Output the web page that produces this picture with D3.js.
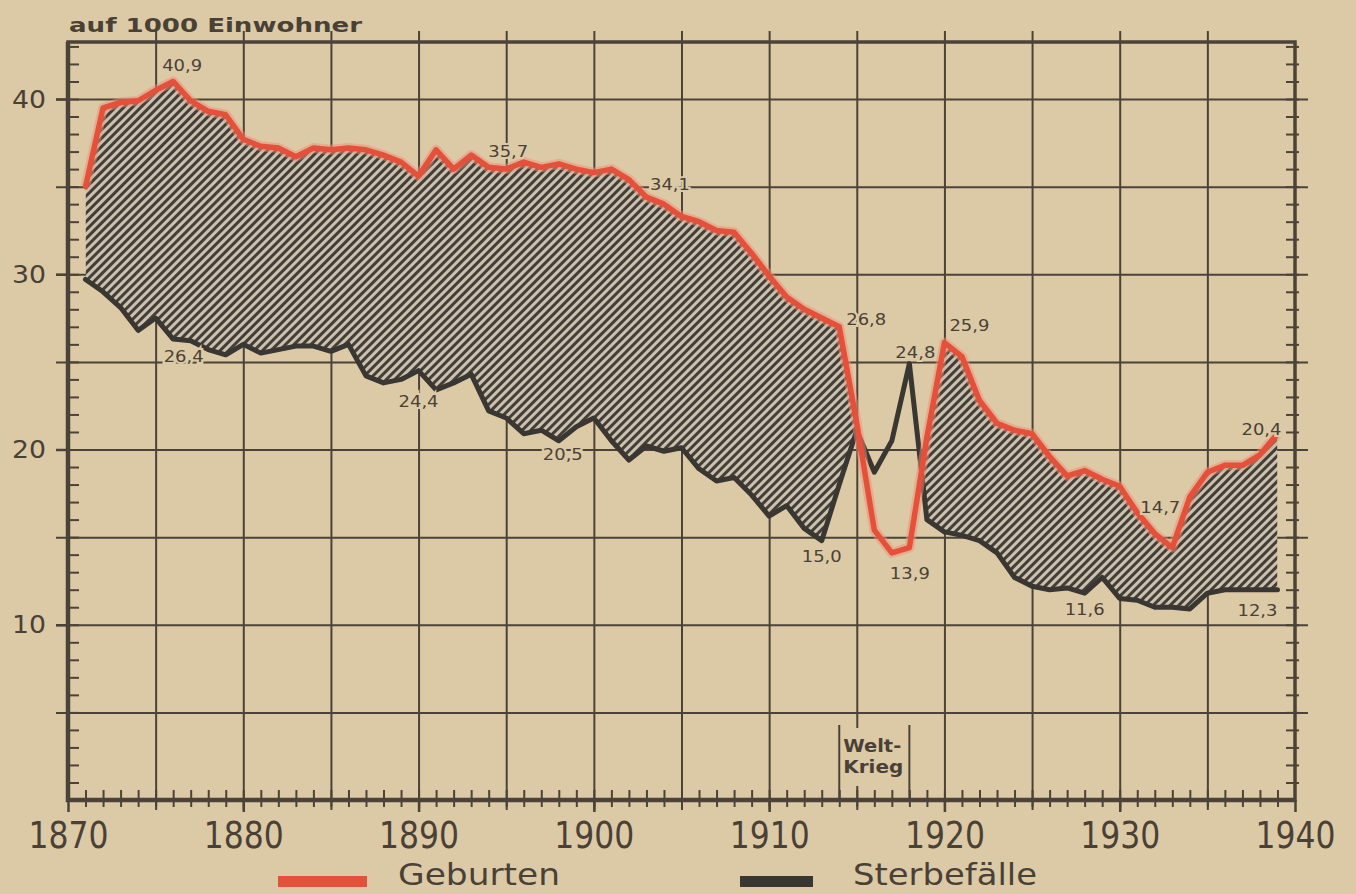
<!DOCTYPE html>
<html lang="de">
<head>
<meta charset="utf-8">
<title>Geburten und Sterbefälle</title>
<script src="https://cdn.jsdelivr.net/npm/d3@7"></script>
<style>
  html, body { margin: 0; padding: 0; background: #dccaa7; }
  svg { display: block; }
  text { font-family: "DejaVu Sans", sans-serif; fill: #4a4136; }
</style>
</head>
<body>
<div id="chart"></div>
<script>
// Jahre 1871-1939, Raten auf 1000 Einwohner
const years = [
  1871, 1872, 1873, 1874, 1875, 1876, 1877, 1878, 1879, 1880,
  1881, 1882, 1883, 1884, 1885, 1886, 1887, 1888, 1889, 1890,
  1891, 1892, 1893, 1894, 1895, 1896, 1897, 1898, 1899, 1900,
  1901, 1902, 1903, 1904, 1905, 1906, 1907, 1908, 1909, 1910,
  1911, 1912, 1913, 1914, 1915, 1916, 1917, 1918, 1919, 1920,
  1921, 1922, 1923, 1924, 1925, 1926, 1927, 1928, 1929, 1930,
  1931, 1932, 1933, 1934, 1935, 1936, 1937, 1938, 1939
];

const births = [
  35.0, 39.5, 39.8, 39.9, 40.5, 41.0, 39.9, 39.3, 39.1, 37.7,
  37.3, 37.2, 36.7, 37.2, 37.1, 37.2, 37.1, 36.8, 36.4, 35.6,
  37.1, 36.0, 36.8, 36.1, 36.0, 36.4, 36.1, 36.3, 36.0, 35.8,
  36.0, 35.4, 34.4, 34.0, 33.3, 33.0, 32.5, 32.4, 31.2, 29.9,
  28.7, 28.0, 27.5, 27.0, 21.5, 15.4, 14.1, 14.4, 20.7, 26.1,
  25.3, 22.8, 21.5, 21.1, 20.9, 19.6, 18.5, 18.8, 18.3, 17.9,
  16.4, 15.2, 14.4, 17.3, 18.7, 19.1, 19.1, 19.7, 20.9
];

const deaths = [
  29.7, 29.0, 28.1, 26.8, 27.5, 26.3, 26.2, 25.7, 25.4, 26.0,
  25.5, 25.7, 25.9, 25.9, 25.6, 26.0, 24.2, 23.8, 24.0, 24.5,
  23.4, 23.8, 24.3, 22.2, 21.8, 20.9, 21.1, 20.5, 21.3, 21.8,
  20.5, 19.4, 20.2, 19.9, 20.1, 18.9, 18.2, 18.4, 17.4, 16.2,
  16.8, 15.5, 14.8, 18.0, 21.1, 18.7, 20.5, 24.9, 16.0, 15.3,
  15.1, 14.8, 14.1, 12.7, 12.2, 12.0, 12.1, 11.8, 12.7, 11.5,
  11.4, 11.0, 11.0, 10.9, 11.8, 12.0, 12.0, 12.0, 12.0
];

const decadeTicks = [1870, 1880, 1890, 1900, 1910, 1920, 1930, 1940];
const gridYears = [1875, 1880, 1885, 1890, 1895, 1900, 1905, 1910, 1915, 1920, 1925, 1930, 1935];
const rateTicks = [10, 20, 30, 40];
const gridRates = [5, 10, 15, 20, 25, 30, 35, 40];

// Beschriftete Werte an den Kurven
const annotations = [
  { series: 'births', year: 1876, text: '40,9' },
  { series: 'deaths', year: 1877, text: '26,4' },
  { series: 'deaths', year: 1890, text: '24,4' },
  { series: 'births', year: 1895, text: '35,7' },
  { series: 'births', year: 1904, text: '34,1' },
  { series: 'deaths', year: 1898, text: '20,5' },
  { series: 'deaths', year: 1913, text: '15,0' },
  { series: 'births', year: 1914, text: '26,8' },
  { series: 'deaths', year: 1918, text: '24,8' },
  { series: 'births', year: 1920, text: '25,9' },
  { series: 'births', year: 1917, text: '13,9' },
  { series: 'births', year: 1933, text: '14,7' },
  { series: 'deaths', year: 1928, text: '11,6' },
  { series: 'deaths', year: 1939, text: '12,3' },
  { series: 'births', year: 1939, text: '20,4' }
];

// Versatz der Beschriftung gegenüber dem Datenpunkt (px)
const labelOffsets = {
  '40,9': [9, -16], '26,4': [-7, 16], '24,4': [0, 31], '35,7': [2, -17],
  '34,1': [6, -19], '20,5': [4, 14], '15,0': [0, 16], '26,8': [27, -7],
  '24,8': [6, -11], '25,9': [25, -17], '13,9': [18, 21], '14,7': [-12, -40],
  '11,6': [0, 17], '12,3': [-20, 21], '20,4': [-16, -4]
};

const W = 1356, H = 894;
const bg = '#dccaa7';
const ink = '#4b4338';
const red = '#e5503a';
const dark = '#3a3632';

const x = d3.scaleLinear().domain([1870, 1940]).range([68, 1295]);
const y = d3.scaleLinear().domain([0, 40]).range([800, 99]);
const frameTop = 42;

const rows = years.map((yr, i) => ({ year: yr, b: births[i], d: deaths[i] }));

const svg = d3.select('#chart').append('svg')
  .attr('width', W)
  .attr('height', H);

svg.append('rect').attr('width', W).attr('height', H).attr('fill', bg);

// Schraffur
const defs = svg.append('defs');
const pat = defs.append('pattern')
  .attr('id', 'hatch')
  .attr('patternUnits', 'userSpaceOnUse')
  .attr('width', 6)
  .attr('height', 6)
  .attr('patternTransform', 'rotate(45)');
pat.append('rect').attr('width', 6).attr('height', 6).attr('fill', '#cac2ae');
pat.append('rect').attr('width', 3).attr('height', 6).attr('fill', '#433e38');

defs.append('clipPath').attr('id', 'aboveDeaths')
  .append('path')
  .attr('d', d3.area().x(d => x(d.year)).y0(0).y1(d => y(d.d))(rows));

// Gitter
const gridV = svg.append('g')
  .attr('transform', 'translate(0,810)')
  .call(d3.axisBottom(x).tickValues(gridYears).tickSize(-(810 - 31)).tickFormat(''));
gridV.select('.domain').remove();
gridV.selectAll('line').attr('stroke', ink).attr('stroke-width', 2);

const gridH = svg.append('g')
  .attr('transform', 'translate(56,0)')
  .call(d3.axisLeft(y).tickValues(gridRates).tickSize(-(1308 - 56)).tickFormat(''));
gridH.select('.domain').remove();
gridH.selectAll('line').attr('stroke', ink).attr('stroke-width', 2);

// Geburtenüberschuss schraffiert
svg.append('path')
  .attr('clip-path', 'url(#aboveDeaths)')
  .attr('d', d3.area().x(d => x(d.year)).y0(800).y1(d => y(d.b))(rows))
  .attr('fill', 'url(#hatch)');

// Rahmen
svg.append('rect')
  .attr('x', 68).attr('y', frameTop)
  .attr('width', 1295 - 68).attr('height', 800 - frameTop)
  .attr('fill', 'none')
  .attr('stroke', ink)
  .attr('stroke-width', 3.5);
svg.append('path')
  .attr('d', `M68,${frameTop}V800H1295`)
  .attr('fill', 'none')
  .attr('stroke', ink)
  .attr('stroke-width', 4.5);

// Kleine Teilstriche
const minorX = svg.append('g')
  .attr('transform', 'translate(0,807)')
  .call(d3.axisTop(x).tickValues(years).tickSize(17).tickFormat(''));
minorX.select('.domain').remove();
minorX.selectAll('line').attr('stroke', ink).attr('stroke-width', 2);

const unitTicks = d3.range(1, 44);
const minorL = svg.append('g')
  .attr('transform', 'translate(66,0)')
  .call(d3.axisRight(y).tickValues(unitTicks).tickSize(13).tickFormat(''));
minorL.select('.domain').remove();
minorL.selectAll('line').attr('stroke', ink).attr('stroke-width', 2);

const minorR = svg.append('g')
  .attr('transform', 'translate(1299,0)')
  .call(d3.axisLeft(y).tickValues(unitTicks).tickSize(13).tickFormat(''));
minorR.select('.domain').remove();
minorR.selectAll('line').attr('stroke', ink).attr('stroke-width', 2);

// Achsenbeschriftung
const xAxis = svg.append('g')
  .attr('transform', 'translate(0,800)')
  .call(d3.axisBottom(x).tickValues(decadeTicks).tickSize(12).tickPadding(10).tickFormat(d3.format('d')));
xAxis.select('.domain').remove();
xAxis.selectAll('line').attr('stroke', ink).attr('stroke-width', 2.5);
xAxis.selectAll('text')
  .attr('font-size', 37)
  .attr('textLength', 80)
  .attr('lengthAdjust', 'spacingAndGlyphs')
  .style('font-family', '"DejaVu Sans", sans-serif')
  .attr('fill', '#3f382f');

const yAxis = svg.append('g')
  .attr('transform', 'translate(68,0)')
  .call(d3.axisLeft(y).tickValues(rateTicks).tickSize(12).tickPadding(10));
yAxis.select('.domain').remove();
yAxis.selectAll('line').attr('stroke', ink).attr('stroke-width', 2.5);
yAxis.selectAll('text')
  .attr('font-size', 25)
  .attr('textLength', 34)
  .attr('lengthAdjust', 'spacingAndGlyphs')
  .style('font-family', '"DejaVu Sans", sans-serif')
  .attr('fill', ink);

// Kurven
const lineB = d3.line().x(d => x(d.year)).y(d => y(d.b));
const lineD = d3.line().x(d => x(d.year)).y(d => y(d.d));

svg.append('path')
  .attr('d', lineD(rows))
  .attr('fill', 'none')
  .attr('stroke', dark)
  .attr('stroke-width', 5)
  .attr('stroke-linejoin', 'round')
  .attr('stroke-linecap', 'round');

svg.append('path')
  .attr('d', lineB(rows))
  .attr('fill', 'none')
  .attr('stroke', '#ee8f77')
  .attr('stroke-opacity', 0.5)
  .attr('stroke-width', 10)
  .attr('stroke-linejoin', 'round');
svg.append('path')
  .attr('d', lineB(rows))
  .attr('fill', 'none')
  .attr('stroke', red)
  .attr('stroke-width', 5.5)
  .attr('stroke-linejoin', 'round')
  .attr('stroke-linecap', 'round');

// Weltkrieg-Markierung
const wk = svg.append('g');
wk.append('rect')
  .attr('x', x(1914) + 2).attr('y', 728)
  .attr('width', x(1918) - x(1914) - 4).attr('height', 58)
  .attr('fill', bg);
[1914, 1918].forEach(yr => {
  wk.append('line')
    .attr('x1', x(yr)).attr('x2', x(yr))
    .attr('y1', 725).attr('y2', 800)
    .attr('stroke', ink).attr('stroke-width', 2);
});
wk.append('text')
  .attr('x', x(1914) + 4).attr('y', 752)
  .attr('font-size', 17).attr('font-weight', 'bold')
  .attr('textLength', 58).attr('lengthAdjust', 'spacingAndGlyphs')
  .text('Welt-');
wk.append('text')
  .attr('x', x(1914) + 4).attr('y', 773)
  .attr('font-size', 17).attr('font-weight', 'bold')
  .attr('textLength', 60).attr('lengthAdjust', 'spacingAndGlyphs')
  .text('Krieg');

// Wertbeschriftungen
const seriesData = { births: births, deaths: deaths };
svg.append('g').selectAll('text')
  .data(annotations)
  .enter().append('text')
  .attr('x', d => x(d.year) + labelOffsets[d.text][0])
  .attr('y', d => y(seriesData[d.series][years.indexOf(d.year)]) + labelOffsets[d.text][1])
  .attr('dy', '0.35em')
  .attr('text-anchor', 'middle')
  .attr('font-size', 15)
  .attr('textLength', 40)
  .attr('lengthAdjust', 'spacingAndGlyphs')
  .attr('stroke', bg)
  .attr('stroke-width', 4)
  .attr('paint-order', 'stroke')
  .text(d => d.text);

// Titel der y-Achse
svg.append('text')
  .attr('x', 69).attr('y', 32)
  .attr('font-size', 20)
  .attr('font-weight', 600)
  .attr('textLength', 293)
  .attr('lengthAdjust', 'spacingAndGlyphs')
  .text('auf 1000 Einwohner');

// Legende
const legendItems = [
  { label: 'Geburten', color: red },
  { label: 'Sterbefälle', color: dark }
];
const legendLayout = [
  { bx: 278, bw: 89, tx: 398, tw: 162 },
  { bx: 740, bw: 73, tx: 853, tw: 184 }
];
legendItems.forEach((item, i) => {
  const l = legendLayout[i];
  svg.append('rect')
    .attr('x', l.bx).attr('y', 876)
    .attr('width', l.bw).attr('height', 11)
    .attr('fill', item.color);
  svg.append('text')
    .attr('x', l.tx).attr('y', 885)
    .attr('font-size', 31)
    .attr('textLength', l.tw)
    .attr('lengthAdjust', 'spacingAndGlyphs')
    .text(item.label);
});
</script>
</body>
</html>
